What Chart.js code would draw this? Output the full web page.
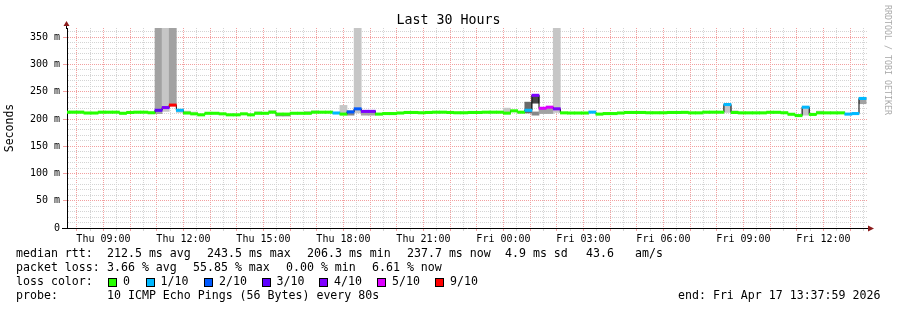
<!DOCTYPE html>
<html>
<head>
<meta charset="utf-8">
<title>Last 30 Hours</title>
<script src="https://cdn.jsdelivr.net/npm/chart.js@4.4.1/dist/chart.umd.min.js"></script>
<style>
html, body { margin: 0; padding: 0; background: #fff; }
#wrap { position: relative; width: 897px; height: 310px; font-family: 'DejaVu Sans Mono', monospace; color: #000; overflow: hidden; }
#chart { position: absolute; left: 0; top: 0; }
.t { position: absolute; white-space: pre; font-size: 11.6px; line-height: 11.6px; }
.title { position: absolute; left: 0; top: 13px; width: 897px; text-align: center; font-size: 13.3px; line-height: 13.3px; }
.mark { position: absolute; left: 892px; top: 5px; transform-origin: 0 0; transform: rotate(90deg); white-space: pre; font-size: 8.3px; line-height: 8.3px; color: #aaa; }
.box { position: absolute; width: 9px; height: 9px; box-sizing: border-box; border: 1px solid #000; }
</style>
</head>
<body>
<div id="wrap">
  <canvas id="chart" width="897" height="310"></canvas>
  <div class="title">Last 30 Hours</div>
  <div class="mark">RRDTOOL / TOBI OETIKER</div>

  <span class="t" style="left:16px;top:248px">median rtt:</span>
  <span class="t" style="left:107px;top:248px">212.5 ms avg</span>
  <span class="t" style="left:207px;top:248px">243.5 ms max</span>
  <span class="t" style="left:307px;top:248px">206.3 ms min</span>
  <span class="t" style="left:407px;top:248px">237.7 ms now</span>
  <span class="t" style="left:505px;top:248px">4.9 ms sd</span>
  <span class="t" style="left:586px;top:248px">43.6</span>
  <span class="t" style="left:635px;top:248px">am/s</span>

  <span class="t" style="left:16px;top:262px">packet loss:</span>
  <span class="t" style="left:107px;top:262px">3.66 % avg</span>
  <span class="t" style="left:193px;top:262px">55.85 % max</span>
  <span class="t" style="left:286px;top:262px">0.00 % min</span>
  <span class="t" style="left:372px;top:262px">6.61 % now</span>

  <span class="t" style="left:16px;top:276px">loss color:</span>
  <div id="lossLegend"></div>

  <span class="t" style="left:16px;top:290px">probe:</span>
  <span class="t" style="left:107px;top:290px">10 ICMP Echo Pings (56 Bytes) every 80s</span>
  <span class="t" style="left:678px;top:290px">end: Fri Apr 17 13:37:59 2026</span>
</div>
<script>
// time axis, hours since Thu 00:00
const startHour = 7 + 37 / 60 + 59 / 3600;   // Thu 07:37:59
const endHour = startHour + 30;              // Fri 13:37:59
const firstBucket = 7 + 28 / 60;             // 16 min steps (12 x 80s)
const stepHours = 16 / 60;

// median rtt per 16 min step, ms
const median = [
  212.5, 212.5, 212.5, 211, 211, 212.5, 212.5, 212.5, 210.5, 212, 212.5, 212.5, 211.5, 216, 221, 225.5,
  216, 211, 209.5, 207.7, 210.5, 210.5, 209.5, 207.7, 207.7, 209.5, 207.7, 210.5, 210.5, 212.5, 209, 209,
  210.5, 210.5, 210.5, 212.5, 212.5, 212.5, 211, 209, 213, 218.6, 214, 214, 209, 210, 210, 211,
  212, 212, 211.5, 212, 212.5, 212.5, 212, 211.5, 211.5, 212, 212, 212.5, 212.5, 212.5, 210.8, 215,
  212.5, 216, 243.5, 219.7, 221.7, 218.7, 211.3, 211, 211, 211, 212.6, 209, 210, 210, 211, 212,
  212, 212, 211.5, 211.5, 211.5, 212, 212, 212.2, 211.3, 211.3, 212.5, 212.5, 212.5, 226.6, 212, 211.3,
  211.3, 211.3, 211.3, 212.3, 212.3, 211.5, 208.7, 206.3, 221.7, 208.4, 211.3, 211.3, 211.3, 211.3, 209, 210, 237.7
];
// lost pings out of 10 per step
const loss = [
  0, 0, 0, 0, 0, 0, 0, 0, 0, 0, 0, 0, 0, 3, 4, 9,
  1, 0, 0, 0, 0, 0, 0, 0, 0, 0, 0, 0, 0, 0, 0, 0,
  0, 0, 0, 0, 0, 0, 1, 0, 2, 2, 4, 4, 0, 0, 0, 0,
  0, 0, 0, 0, 0, 0, 0, 0, 0, 0, 0, 0, 0, 0, 0, 0,
  0, 1, 4, 5, 5, 4, 0, 0, 0, 0, 1, 0, 0, 0, 0, 0,
  0, 0, 0, 0, 0, 0, 0, 0, 0, 0, 0, 0, 0, 1, 0, 0,
  0, 0, 0, 0, 0, 0, 0, 0, 1, 0, 0, 0, 0, 0, 1, 1, 1
];

// smoke (ping spread), only the steps where it shows
const smokeStep = [13, 14, 15, 16, 1, 2, 17, 18, 27, 29, 30, 31, 34, 35, 39, 40, 41, 42, 43,
  62, 65, 66, 66, 67, 68, 69, 93, 94, 104, 106, 112];
const smokeLow = [210, 214, 226, 212, 212, 212, 211, 209.5, 210.5, 212.5, 205.5, 205.5, 210.5, 212.5, 209, 207, 211, 207, 207,
  210.8, 211, 229, 207, 210, 210, 212, 212, 212, 207, 211.3, 228];
const smokeHigh = [380, 380, 380, 218, 215, 215, 214.5, 213, 214, 215.5, 209, 209, 214, 215.5, 225, 215, 380, 214, 214,
  220, 231, 243.5, 213, 219.7, 222, 380, 226.6, 215, 221.7, 214.5, 237.7];
const smokeDensity = [3, 2, 3, 2, 1, 1, 2, 1, 1, 2, 4, 4, 2, 1, 2, 4, 2, 3, 3,
  2, 5, 6, 4, 3, 3, 2, 2, 2, 2, 2, 3];

const lossLevels = [0, 1, 2, 3, 4, 5, 9];
const lossLabels = ['0', '1/10', '2/10', '3/10', '4/10', '5/10', '9/10'];

// styles
const lossColors = {0: '#26ff00', 1: '#00b8ff', 2: '#0059ff', 3: '#5e00ff', 4: '#7e00ff', 5: '#dd00ff', 9: '#ff0000'};
const smokeGreys = ['#ffffff', '#d8d8d8', '#c6c6c6', '#a2a2a2', '#888888', '#6a6a6a', '#454545'];
const bandHalf = 2.2;
const majorGrid = '#f2a0a0';
const minorGrid = '#d4d4d4';
const legendBoxX = [108, 145.5, 204, 261.5, 319, 377, 435];

const center = i => firstBucket + (i + 0.5) * stepHours;
const stepEnd = i => firstBucket + (i + 1) * stepHours;

const lossLegend = document.getElementById('lossLegend');
lossLevels.forEach((lv, k) => {
  const b = document.createElement('div');
  b.className = 'box';
  b.style.left = legendBoxX[k] + 'px';
  b.style.top = '277.5px';
  b.style.background = lossColors[lv];
  lossLegend.appendChild(b);
  const s = document.createElement('span');
  s.className = 't';
  s.style.left = (legendBoxX[k] + 15) + 'px';
  s.style.top = '276px';
  s.textContent = lossLabels[k];
  lossLegend.appendChild(s);
});

const xTicks = [];
for (let h = 8; h < endHour; h += 0.5) xTicks.push(h);
const yTicks = [];
for (let v = 0; v <= 360; v += 10) yTicks.push(v);

const axisArrows = {
  id: 'axisArrows',
  afterDraw(chart) {
    const {ctx, chartArea: a} = chart;
    ctx.save();
    ctx.strokeStyle = '#000';
    ctx.lineWidth = 1;
    ctx.beginPath();
    ctx.moveTo(a.left - 0.5, a.top + 1);
    ctx.lineTo(a.left - 0.5, a.top - 3);
    ctx.moveTo(a.left - 5, a.bottom + 0.5);
    ctx.lineTo(a.left, a.bottom + 0.5);
    ctx.moveTo(a.right - 1, a.bottom + 0.5);
    ctx.lineTo(a.right + 2, a.bottom + 0.5);
    ctx.stroke();
    ctx.fillStyle = '#8b1c1c';
    ctx.beginPath();
    ctx.moveTo(a.left - 3.5, a.top - 2);
    ctx.lineTo(a.left + 2.5, a.top - 2);
    ctx.lineTo(a.left - 0.5, a.top - 7);
    ctx.closePath();
    ctx.fill();
    ctx.beginPath();
    ctx.moveTo(a.right + 1, a.bottom - 2.5);
    ctx.lineTo(a.right + 1, a.bottom + 3.5);
    ctx.lineTo(a.right + 7, a.bottom + 0.5);
    ctx.closePath();
    ctx.fill();
    ctx.restore();
  }
};

const isMajorY = v => Math.round(v) % 50 === 0;
const isHour = v => Math.abs(v - Math.round(v)) < 1e-6;

Chart.defaults.font.family = "'DejaVu Sans Mono'";
Chart.defaults.color = '#000';

new Chart(document.getElementById('chart').getContext('2d'), {
  type: 'bar',
  data: {
    datasets: [
      {
        type: 'bar',
        data: median.map((m, i) => ({x: center(i), y: [m - bandHalf, m + bandHalf]})),
        backgroundColor: c => lossColors[loss[c.dataIndex]],
        borderWidth: 0,
        grouped: false,
        barPercentage: 1,
        categoryPercentage: 1,
        clip: 0,
        order: 0
      },
      {
        type: 'line',
        data: median.map((m, i) => ({x: stepEnd(i), y: m})),
        stepped: 'after',
        borderColor: '#000',
        borderWidth: 1,
        pointRadius: 0,
        fill: false,
        clip: 0,
        order: 1
      },
      {
        type: 'bar',
        data: smokeStep.map((s, k) => ({x: center(s), y: [smokeLow[k], smokeHigh[k]]})),
        backgroundColor: c => smokeGreys[smokeDensity[c.dataIndex]],
        borderWidth: 0,
        grouped: false,
        barPercentage: 1,
        categoryPercentage: 1,
        clip: 0,
        order: 2
      }
    ]
  },
  options: {
    responsive: false,
    animation: false,
    devicePixelRatio: 1,
    layout: {padding: {top: 28, right: 30, left: 0, bottom: 0}},
    plugins: {legend: {display: false}, tooltip: {enabled: false}, title: {display: false}},
    scales: {
      x: {
        type: 'linear',
        min: startHour,
        max: endHour,
        offset: false,
        afterFit: s => { s.height = 82; },
        afterBuildTicks: s => { s.ticks = xTicks.map(v => ({value: v})); },
        grid: {
          offset: false,
          color: c => (c.tick && isHour(c.tick.value)) ? majorGrid : minorGrid,
          tickColor: c => (c.tick && isHour(c.tick.value)) ? majorGrid : minorGrid,
          tickLength: 3,
          lineWidth: 1
        },
        border: {display: true, color: '#000', width: 1, dash: [1, 1]},
        ticks: {
          autoSkip: false,
          maxRotation: 0,
          minRotation: 0,
          padding: 2,
          font: {size: 10},
          callback: v => {
            const h = Math.round(v * 2) / 2;
            if (Math.abs(h % 3) > 1e-6) return '';
            const day = h < 24 ? 'Thu' : 'Fri';
            return day + ' ' + String(h % 24).padStart(2, '0') + ':00';
          }
        }
      },
      y: {
        type: 'linear',
        min: 0,
        max: 367,
        afterFit: s => { s.width = 67; },
        afterBuildTicks: s => { s.ticks = yTicks.map(v => ({value: v})); },
        grid: {
          color: c => (c.tick && isMajorY(c.tick.value)) ? majorGrid : minorGrid,
          tickColor: c => !c.tick ? 'transparent' : c.tick.value === 0 ? '#000' : isMajorY(c.tick.value) ? majorGrid : 'transparent',
          tickLength: 4,
          lineWidth: 1
        },
        border: {display: true, color: '#000', width: 1, dash: [1, 1]},
        ticks: {
          autoSkip: false,
          padding: 3,
          font: {size: 10},
          callback: v => isMajorY(v) ? (v === 0 ? '0' : v + ' m') : ''
        },
        title: {
          display: true,
          text: 'Seconds',
          color: '#000',
          font: {size: 11.5},
          padding: {top: 3, bottom: 0}
        }
      }
    }
  },
  plugins: [axisArrows]
});
</script>
</body>
</html>
